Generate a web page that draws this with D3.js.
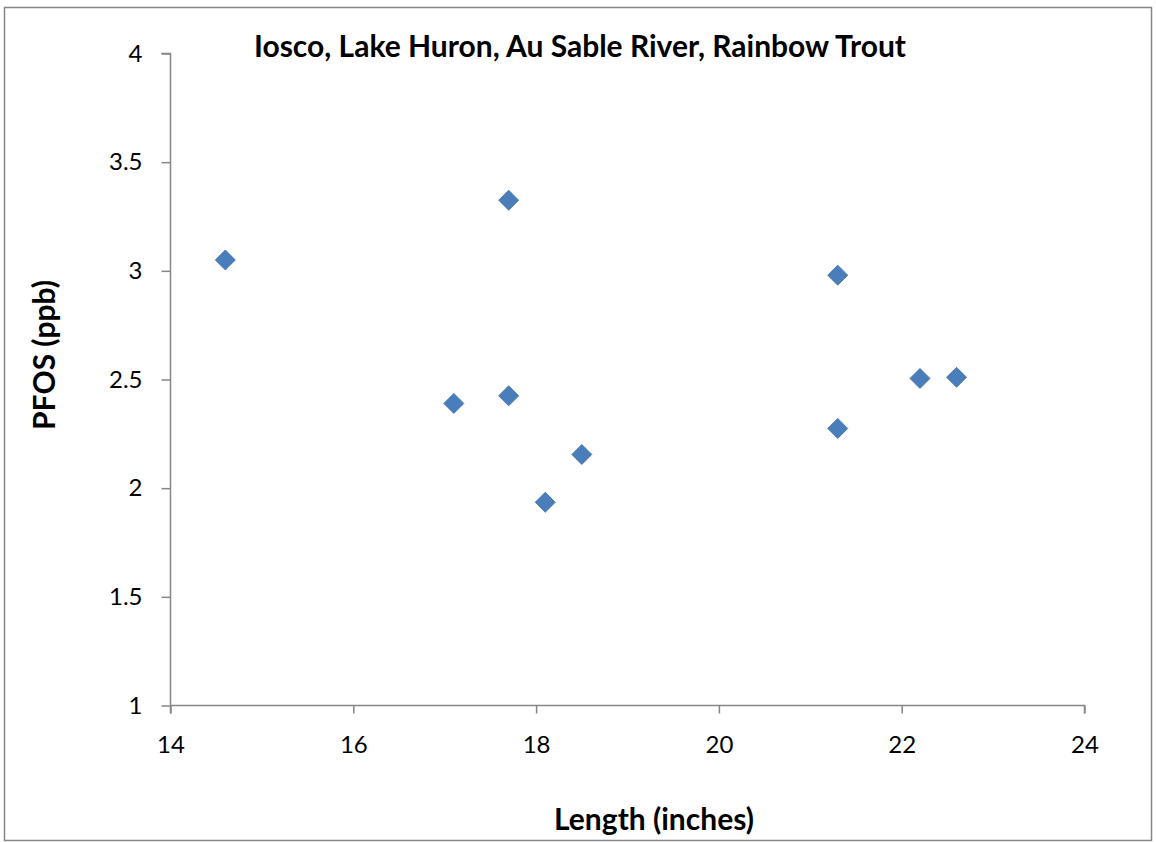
<!DOCTYPE html>
<html><head><meta charset="utf-8">
<script src="https://cdn.jsdelivr.net/npm/d3@7"></script>
<style>body{margin:0;background:#fff}svg{display:block}text{font-family:Lato,"Open Sans",sans-serif}</style>
</head><body><svg id="c" width="1156" height="842"></svg>
<script>
const lengths = [14.6, 17.7, 17.1, 17.7, 18.1, 18.5, 21.3, 21.3, 22.2, 22.6];
const pfos    = [3.05, 3.325, 2.39, 2.425, 1.935, 2.155, 2.98, 2.275, 2.505, 2.51];
const xTicks = [14, 16, 18, 20, 22, 24];
const yTicks = [1, 1.5, 2, 2.5, 3, 3.5, 4];
const title = "Iosco, Lake Huron, Au Sable River, Rainbow Trout";
const xTitle = "Length (inches)";
const yTitle = "PFOS (ppb)";

const svg = d3.select("#c");
svg.append("rect").attr("x",4.5).attr("y",7.5).attr("width",1147).attr("height",833)
  .attr("fill","#fff").attr("stroke","#868686").attr("stroke-width",1.5);

const x = d3.scaleLinear().domain([14,24]).range([170.5,1084.5]);
const y = d3.scaleLinear().domain([1,4]).range([705.5,53.5]);

const gx = svg.append("g").attr("transform","translate(0,705.5)")
  .call(d3.axisBottom(x).tickValues(xTicks).tickFormat(d3.format("d")).tickSize(8).tickPadding(22));
const gy = svg.append("g").attr("transform","translate(170.5,0)")
  .call(d3.axisLeft(y).tickValues(yTicks).tickFormat(d=>String(d)).tickSize(9).tickPadding(19));
[gx,gy].forEach(g=>{
  g.selectAll("path").attr("stroke","#868686").attr("stroke-width",1.5);
  g.selectAll("line").attr("stroke","#868686").attr("stroke-width",1.5);
  g.selectAll("text").attr("fill","#000").style("font-size","24px").style("font-family","Lato,'Open Sans',sans-serif");
});
gx.select(".domain").attr("d","M170.5,8V0H1084.5V8");
gy.select(".domain").attr("d","M-9,53.5H0V705.5");

const sym = d3.symbol().type(d3.symbolSquare).size(200);
svg.append("g").selectAll("path").data(lengths.map((l,i)=>[l,pfos[i]])).join("path")
  .attr("d", sym)
  .attr("transform", d=>`translate(${x(d[0])},${y(d[1])}) rotate(45)`)
  .attr("fill","#4a7ebb").attr("stroke","#4170aa").attr("stroke-width",0.8);

svg.append("text").attr("x",580).attr("y",57).attr("text-anchor","middle")
  .style("font-size","30px").style("font-weight","bold").text(title);
svg.append("text").attr("x",654).attr("y",830).attr("text-anchor","middle")
  .style("font-size","30px").style("font-weight","bold").text(xTitle);
svg.append("text").attr("transform","translate(55,355) rotate(-90)").attr("text-anchor","middle")
  .style("font-size","30px").style("font-weight","bold").text(yTitle);
</script></body></html>
